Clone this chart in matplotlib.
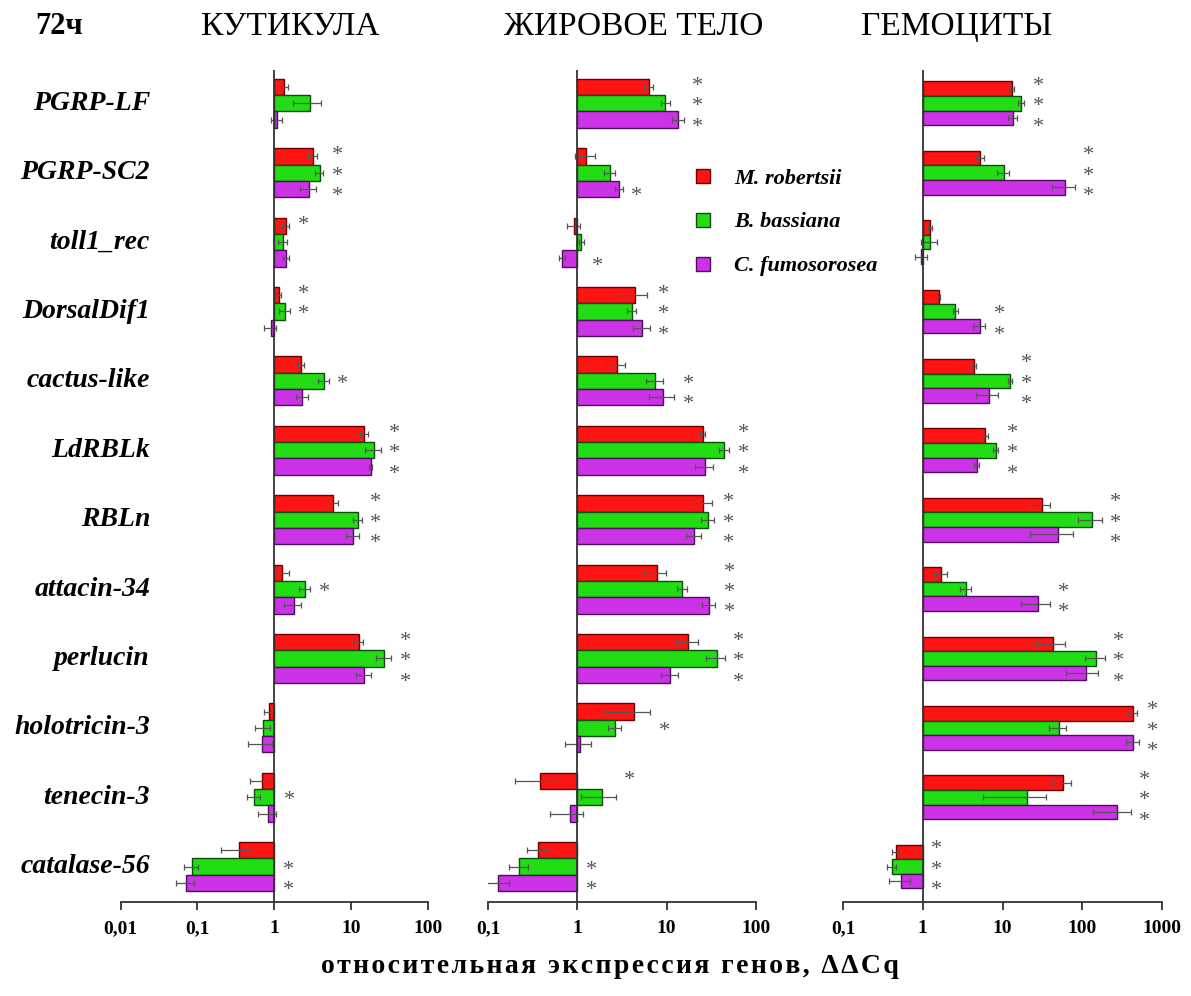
import matplotlib
matplotlib.use('Agg')
import matplotlib.pyplot as plt
from matplotlib.lines import Line2D
from matplotlib.ticker import NullLocator
import numpy as np

plt.rcParams['font.family'] = ['Liberation Serif', 'DejaVu Serif']

genes = ['PGRP-LF', 'PGRP-SC2', 'toll1_rec', 'DorsalDif1', 'cactus-like', 'LdRBLk',
         'RBLn', 'attacin-34', 'perlucin', 'holotricin-3', 'tenecin-3', 'catalase-56']
series_names = ['M. robertsii', 'B. bassiana', 'C. fumosorosea']
titles = ['КУТИКУЛА', 'ЖИРОВОЕ ТЕЛО', 'ГЕМОЦИТЫ']

# Cuticle
cut_mr = [1.36, 3.2, 1.42, 1.15, 2.24, 14.9, 5.84, 1.28, 12.6, 0.86, 0.69, 0.35]
cut_mr_err = [0.15, 0.45, 0.15, 0.07, 0.21, 1.6, 0.9, 0.27, 1.9, 0.13, 0.21, 0.15]
cut_bb = [2.9, 3.9, 1.31, 1.38, 4.4, 19.7, 12.2, 2.53, 27.2, 0.72, 0.55, 0.085]
cut_bb_err = [1.13, 0.47, 0.18, 0.22, 0.7, 4.6, 1.7, 0.42, 6.3, 0.16, 0.11, 0.018]
cut_cf = [1.09, 2.85, 1.42, 0.9, 2.33, 18.0, 10.7, 1.8, 14.8, 0.70, 0.83, 0.071]
cut_cf_err = [0.17, 0.69, 0.13, 0.16, 0.43, 0.9, 2.1, 0.44, 3.3, 0.25, 0.21, 0.018]
cut_mr_sig = [0, 1, 1, 1, 0, 1, 1, 0, 1, 0, 0, 0]
cut_bb_sig = [0, 1, 0, 1, 1, 1, 1, 1, 1, 0, 1, 1]
cut_cf_sig = [0, 1, 0, 0, 0, 1, 1, 0, 1, 0, 0, 1]

# Fat body
fat_mr = [6.27, 1.25, 0.91, 4.45, 2.79, 25.3, 25.8, 7.7, 17.4, 4.26, 0.38, 0.365]
fat_mr_err = [0.75, 0.31, 0.15, 1.5, 0.66, 1.7, 6.0, 2.1, 4.8, 2.3, 0.18, 0.09]
fat_bb = [9.7, 2.31, 1.11, 4.07, 7.4, 44.0, 29.1, 14.9, 36.2, 2.65, 1.89, 0.225]
fat_bb_err = [1.1, 0.33, 0.07, 0.5, 1.6, 5.9, 4.9, 2.0, 8.7, 0.45, 0.8, 0.055]
fat_cf = [13.5, 2.94, 0.68, 5.33, 9.2, 27.0, 20.3, 29.9, 11.0, 1.07, 0.82, 0.13]
fat_cf_err = [2.1, 0.29, 0.05, 1.1, 2.9, 6.0, 3.9, 4.9, 2.3, 0.35, 0.33, 0.04]
fat_mr_sig = [1, 0, 0, 1, 0, 1, 1, 1, 1, 0, 1, 0]
fat_bb_sig = [1, 0, 0, 1, 1, 1, 1, 1, 1, 1, 0, 1]
fat_cf_sig = [1, 1, 1, 1, 1, 1, 1, 1, 1, 0, 0, 1]

# Hemocytes
hem_mr = [13.2, 5.26, 1.23, 1.58, 4.34, 6.1, 31.0, 1.71, 43.0, 432.0, 56.9, 0.46]
hem_mr_err = [0.7, 0.55, 0.07, 0.07, 0.35, 0.45, 8.4, 0.31, 17.0, 60.0, 15.0, 0.05]
hem_bb = [17.1, 10.3, 1.23, 2.56, 12.5, 8.25, 132.0, 3.45, 150.0, 50.5, 20.3, 0.41]
hem_bb_err = [1.5, 1.7, 0.29, 0.17, 0.75, 0.65, 43.0, 0.54, 41.0, 12.7, 14.6, 0.055]
hem_cf = [13.5, 60.8, 0.96, 5.16, 6.8, 4.73, 49.0, 28.0, 110.0, 432.0, 271.0, 0.54]
hem_cf_err = [1.8, 19.6, 0.17, 0.93, 2.1, 0.4, 27.0, 11.0, 48.0, 80.0, 135.0, 0.16]
hem_mr_sig = [1, 1, 0, 0, 1, 1, 1, 0, 1, 1, 1, 1]
hem_bb_sig = [1, 1, 0, 1, 1, 1, 1, 1, 1, 1, 1, 1]
hem_cf_sig = [1, 1, 0, 1, 1, 1, 1, 1, 1, 1, 1, 1]

cut_ticks = [0.01, 0.1, 1, 10, 100]
cut_ticklabels = ['0,01', '0,1', '1', '10', '100']
fat_ticks = [0.1, 1, 10, 100]
fat_ticklabels = ['0,1', '1', '10', '100']
hem_ticks = [0.1, 1, 10, 100, 1000]
hem_ticklabels = ['0,1', '1', '10', '100', '1000']

colors = ['#FF1414', '#22DD14', '#CC33E6']
edges = ['#6a0000', '#0b4d0b', '#4d0f5c']

W, H = 1191, 996
fig = plt.figure(figsize=(W / 100, H / 100), dpi=100)

panels = [
    dict(title=titles[0], l=120.7, r=427.7, ticks=cut_ticks, tl=cut_ticklabels, bh=0.235, tx=290,
         vals=[cut_mr, cut_bb, cut_cf], errs=[cut_mr_err, cut_bb_err, cut_cf_err],
         sigs=[cut_mr_sig, cut_bb_sig, cut_cf_sig]),
    dict(title=titles[1], l=488.0, r=756.0, ticks=fat_ticks, tl=fat_ticklabels, bh=0.235, tx=634,
         vals=[fat_mr, fat_bb, fat_cf], errs=[fat_mr_err, fat_bb_err, fat_cf_err],
         sigs=[fat_mr_sig, fat_bb_sig, fat_cf_sig]),
    dict(title=titles[2], l=843.0, r=1162.0, ticks=hem_ticks, tl=hem_ticklabels, bh=0.21, tx=957,
         vals=[hem_mr, hem_bb, hem_cf], errs=[hem_mr_err, hem_bb_err, hem_cf_err],
         sigs=[hem_mr_sig, hem_bb_sig, hem_cf_sig]),
]

top_px, bot_px = 70, 902
idx = np.arange(len(genes))
axes = []
for p in panels:
    ax = fig.add_axes([p['l'] / W, 1 - bot_px / H, (p['r'] - p['l']) / W, (bot_px - top_px) / H])
    axes.append(ax)
    ax.set_xscale('log')
    ax.set_xlim(p['ticks'][0], p['ticks'][-1])
    ax.set_ylim(11.51, -0.48)
    bh = p['bh']
    ends = np.ones(len(genes))
    for k in range(3):
        v = np.array(p['vals'][k])
        e = np.array(p['errs'][k])
        y = idx + (k - 1) * bh
        ax.barh(y, v - 1, left=1, height=bh, color=colors[k], edgecolor=edges[k],
                linewidth=1.0, zorder=2)
        ax.errorbar(v, y, xerr=e, fmt='none', ecolor='#555555', elinewidth=0.9,
                    capsize=2.5, capthick=0.9, zorder=3)
        ends = np.maximum(ends, v + e)
    for k in range(3):
        for i in range(len(genes)):
            if p['sigs'][k][i]:
                ax.annotate('*', xy=(ends[i], idx[i] + (k - 1) * 0.295 + 0.05),
                            xytext=(14, 0), textcoords='offset pixels',
                            ha='center', va='center', fontsize=16, color='#555555')
    ax.axvline(1, color='#333333', lw=1.3, zorder=5)
    for s in ['left', 'right', 'top']:
        ax.spines[s].set_visible(False)
    ax.spines['bottom'].set_linewidth(1.3)
    ax.spines['bottom'].set_color('#333333')
    ax.set_xticks(p['ticks'])
    ax.set_xticklabels(p['tl'], fontsize=14, fontweight='bold')
    ax.xaxis.set_minor_locator(NullLocator())
    ax.tick_params(axis='x', direction='out', length=6, width=1.3, color='#333333', pad=7)
    ax.set_yticks([])
    ax.patch.set_alpha(0)
    fig.text(p['tx'] / W, 1 - 27 / H, p['title'], ha='center', va='center', fontsize=24)

# gene labels
for i, g in enumerate(genes):
    y_disp = axes[0].transData.transform((1, idx[i]))[1]
    fig.text(150 / W, y_disp / H, g, ha='right', va='center', fontsize=20,
             fontweight='bold', fontstyle='italic')

fig.text(35 / W, 1 - 27 / H, '72ч', ha='left', va='center', fontsize=22, fontweight='bold')

# legend
handles = [Line2D([], [], marker='s', linestyle='none', markersize=10,
                  markerfacecolor=colors[k], markeredgecolor=edges[k], markeredgewidth=1.0)
           for k in range(3)]
fig.legend(handles, series_names, loc='upper left', bbox_to_anchor=(692 / W, 1 - 168 / H),
           frameon=False, prop=dict(size=16, weight='bold', style='italic'),
           labelspacing=1.05, handlelength=1.0, handletextpad=0.9, borderpad=0, borderaxespad=0)

xlabel = 'относительная экспрессия генов, ΔΔCq'
spaced = '\u200a'.join(list(xlabel))
fig.text(610 / W, 1 - 966 / H, spaced, ha='center', va='center', fontsize=20, fontweight='bold')

fig.savefig('out.png', dpi=100)
